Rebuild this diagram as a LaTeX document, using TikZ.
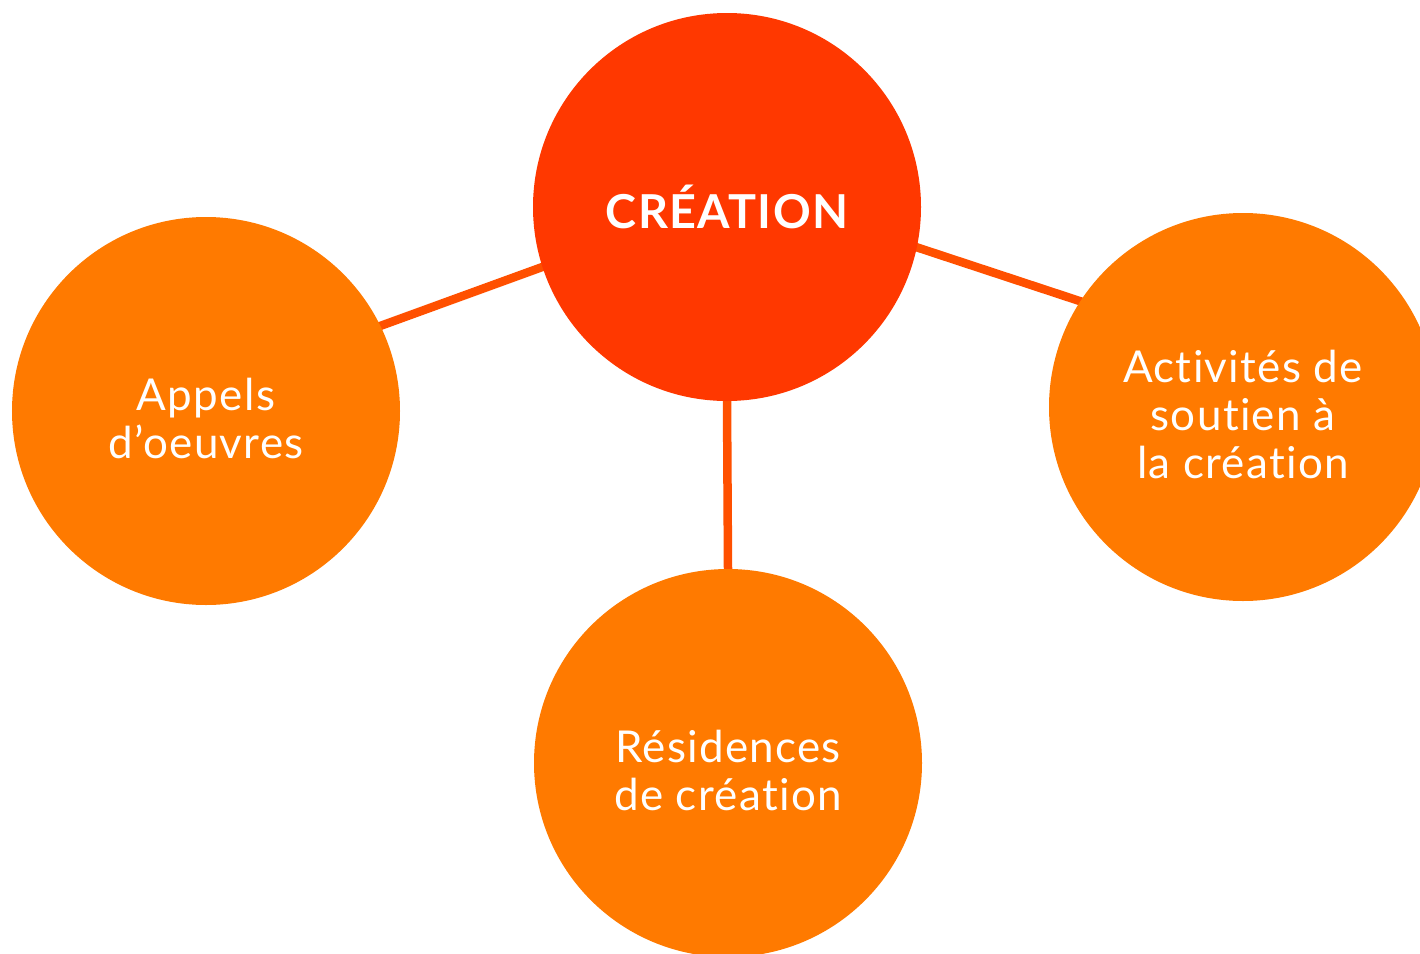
\documentclass[tikz,border=0pt]{standalone}
\usepackage{fontspec}
\setmainfont{Lato}[Ligatures=NoCommon, LetterSpace=3]
\usepackage{xcolor}
\usetikzlibrary{backgrounds}
\definecolor{hubred}{HTML}{FF3800}
\definecolor{leaforange}{HTML}{FF7A00}
\definecolor{linkred}{HTML}{FF5000}
\newcommand{\liftline}{\rule{0pt}{1.08em}}

\begin{document}
\begin{tikzpicture}[
    hub/.style={circle, fill=hubred, minimum size=7.76cm, inner sep=0pt, text=white, font=\fontsize{26.6}{32}\selectfont\bfseries},
    leaf/.style={circle, fill=leaforange, minimum size=7.76cm, inner sep=0pt, text=white, align=center, font=\fontsize{25}{27.2}\selectfont},
    link/.style={draw=linkred, line width=0.17cm, shorten <=-4pt, shorten >=-4pt}
]
\useasboundingbox (0,0) rectangle (28.4,-19.08);

\node[hub] (creation) at (14.54,-4.14) {CRÉATION};
\node[leaf] (appels) at (4.12,-8.22) {\liftline Appels\\d’oeuvres};
\node[leaf] (residences) at (14.56,-15.26) {\liftline Résidences\\de création};
\node[leaf] (activites) at (24.86,-8.14) {\liftline Activités de\\soutien à\\la création};

\begin{scope}[on background layer]
\draw[link] (creation.198) -- (appels.26);
\draw[link] (creation.-12) -- (activites.147);
\draw[link] (creation.south) -- (residences.north);
\end{scope}

\end{tikzpicture}
\end{document}
